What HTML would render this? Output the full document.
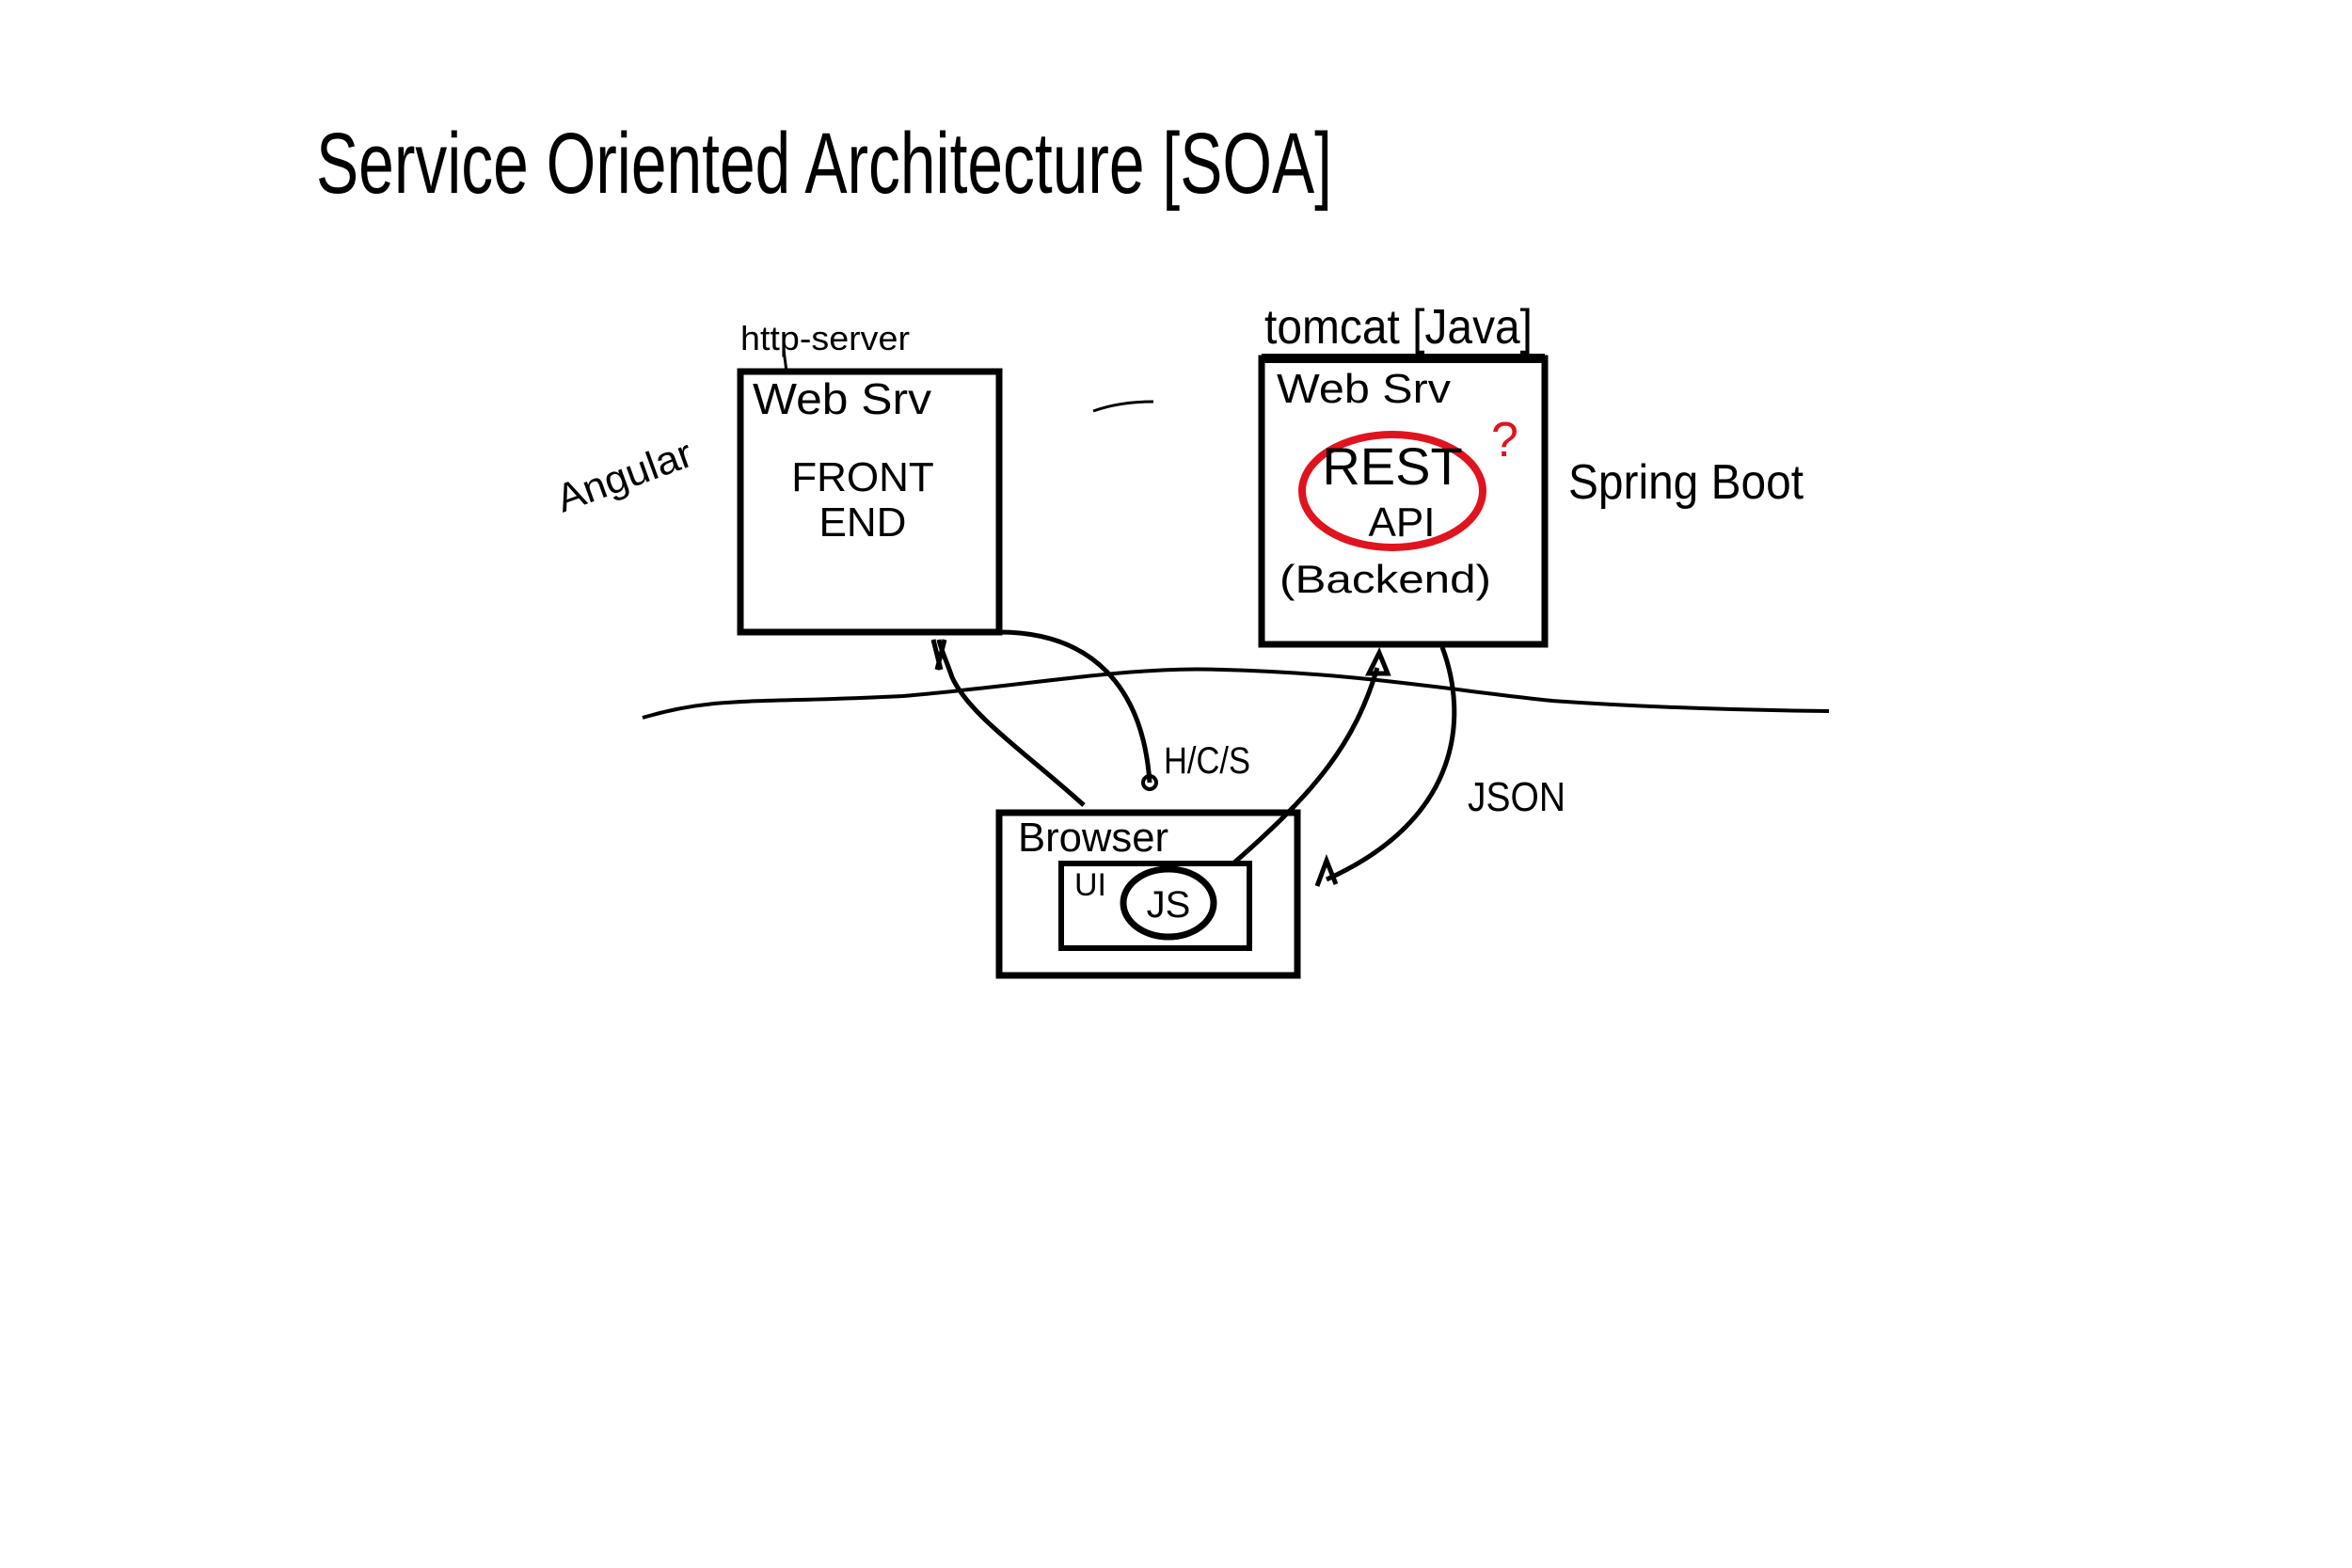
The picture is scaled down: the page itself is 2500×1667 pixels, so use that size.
<!DOCTYPE html>
<html><head><meta charset="utf-8"><style>
html,body{margin:0;padding:0;background:#fff;}
svg{display:block;}
text{font-family:"Liberation Sans","DejaVu Sans",sans-serif;fill:#000;}
</style></head><body>
<svg width="2500" height="1667" viewBox="0 0 2500 1667" xmlns="http://www.w3.org/2000/svg">
<rect width="2500" height="1667" fill="#fff"/>
<text x="336" y="205" font-size="92" textLength="1080" lengthAdjust="spacingAndGlyphs">Service Oriented Architecture [SOA]</text>
<!-- left box -->
<rect x="787" y="395" width="275" height="277" fill="none" stroke="#000" stroke-width="7"/>
<line x1="833" y1="372" x2="836" y2="395" stroke="#000" stroke-width="3"/>
<text x="787" y="372" font-size="36" textLength="180" lengthAdjust="spacingAndGlyphs">http-server</text>
<text x="800" y="440" font-size="46" textLength="190" lengthAdjust="spacingAndGlyphs">Web Srv</text>
<text x="917" y="522" font-size="44" text-anchor="middle">FRONT</text>
<text x="917" y="570" font-size="44" text-anchor="middle">END</text>
<text x="598" y="545" font-size="42" transform="rotate(-20 598 545)" textLength="150" lengthAdjust="spacingAndGlyphs">Angular</text>
<!-- right box -->
<rect x="1341" y="381" width="301" height="304" fill="none" stroke="#000" stroke-width="7"/>
<line x1="1341" y1="381" x2="1642" y2="381" stroke="#000" stroke-width="10"/>
<text x="1344" y="365" font-size="52" textLength="285" lengthAdjust="spacingAndGlyphs">tomcat [Java]</text>
<text x="1357" y="428" font-size="44" textLength="185" lengthAdjust="spacingAndGlyphs">Web Srv</text>
<ellipse cx="1480" cy="522" rx="96" ry="60" fill="none" stroke="#e0141e" stroke-width="8"/>
<text x="1480" y="515" font-size="56" text-anchor="middle">REST</text>
<text x="1490" y="570" font-size="44" text-anchor="middle">API</text>
<text x="1360" y="630" font-size="42" textLength="225" lengthAdjust="spacingAndGlyphs">(Backend)</text>
<text x="1585" y="485" font-size="52" fill="#e0141e" style="fill:#e0141e">?</text>
<text x="1667" y="530" font-size="52" textLength="250" lengthAdjust="spacingAndGlyphs">Spring Boot</text>
<path d="M1162 437 Q1190 427 1226 427" fill="none" stroke="#000" stroke-width="3"/>
<!-- wavy line -->
<path d="M683 763 C760 740 800 748 960 740 C1100 728 1200 708 1300 712 C1450 716 1550 735 1650 745 C1750 752 1850 755 1944 756" fill="none" stroke="#000" stroke-width="4"/>
<!-- browser -->
<rect x="1062" y="864" width="317" height="173" fill="none" stroke="#000" stroke-width="7"/>
<rect x="1128" y="918" width="200" height="90" fill="none" stroke="#000" stroke-width="6"/>
<ellipse cx="1242" cy="960" rx="48" ry="36" fill="none" stroke="#000" stroke-width="7"/>
<text x="1242" y="975" font-size="40" text-anchor="middle">JS</text>
<text x="1082" y="905" font-size="44" textLength="160" lengthAdjust="spacingAndGlyphs">Browser</text>
<text x="1142" y="952" font-size="34">UI</text>
<!-- connectors -->
<path d="M1152 856 C1090 800 1030 760 1012 720 C1005 700 1000 690 998 680" fill="none" stroke="#000" stroke-width="5"/>
<path d="M992 680 L1000 712 M1004 680 L996 712" stroke="#000" stroke-width="5"/>
<path d="M1062 672 C1160 672 1215 730 1222 832" fill="none" stroke="#000" stroke-width="5"/>
<circle cx="1222" cy="832" r="7" fill="none" stroke="#000" stroke-width="4"/>
<text x="1237" y="822" font-size="40" textLength="92" lengthAdjust="spacingAndGlyphs">H/C/S</text>
<path d="M1312 917 C1400 840 1440 790 1464 710" fill="none" stroke="#000" stroke-width="5"/>
<path d="M1455 716 L1466 694 L1475 716 Z" fill="none" stroke="#000" stroke-width="5"/>
<path d="M1533 688 C1560 760 1555 870 1410 935" fill="none" stroke="#000" stroke-width="5"/>
<path d="M1400 942 L1410 915 L1420 940" fill="none" stroke="#000" stroke-width="5"/>
<text x="1560" y="862" font-size="44" textLength="104" lengthAdjust="spacingAndGlyphs">JSON</text>
</svg>
</body></html>
